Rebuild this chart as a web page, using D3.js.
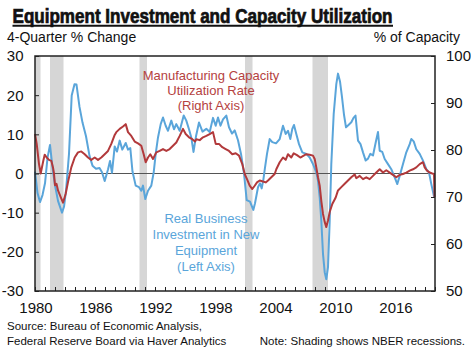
<!DOCTYPE html>
<html>
<head>
<meta charset="utf-8">
<script src="https://cdn.jsdelivr.net/npm/d3@7"></script>
<style>
  html, body { margin: 0; padding: 0; background: #fff; }
  svg { display: block; }
  text { font-family: "Liberation Sans", Arial, Helvetica, sans-serif; }
</style>
</head>
<body>
<svg id="chart" width="471" height="355"></svg>
<script>
// ---------- DATA ----------
const titleText = "Equipment Investment and Capacity Utilization";
const leftAxisTitle = "4-Quarter % Change";
const rightAxisTitle = "% of Capacity";
const leftTicks = [-30, -20, -10, 0, 10, 20, 30];
const rightTicks = [50, 60, 70, 80, 90, 100];
const yearLabels = [1980, 1986, 1992, 1998, 2004, 2010, 2016];

const recessionStarts = [1980.0, 1981.5, 1990.45, 2001.0, 2007.75];
const recessionEnds   = [1980.55, 1982.85, 1991.2, 2001.75, 2009.3];

// Real business investment in new equipment, 4-quarter % change (left axis)
const equipDates = [1980.0,1980.25,1980.5,1980.75,1981.0,1981.25,1981.5,1981.75,1982.0,1982.3,1982.7,1982.9,
  1983.1,1983.4,1983.67,1983.95,1984.15,1984.45,1984.75,1985.1,1985.45,1985.75,1986.1,1986.45,1986.7,1986.97,
  1987.3,1987.5,1987.7,1987.97,1988.2,1988.47,1988.73,1989.07,1989.3,1989.53,1989.75,1990.07,1990.4,1990.63,
  1990.8,1991.03,1991.3,1991.63,1991.87,1992.07,1992.3,1992.57,1992.8,1993.07,1993.3,1993.63,1993.9,1994.13,
  1994.47,1994.87,1995.13,1995.4,1995.63,1995.85,1996.1,1996.4,1996.75,1997.13,1997.47,1997.8,1998.07,1998.3,
  1998.55,1998.8,1999.13,1999.4,1999.7,1999.97,2000.3,2000.6,2000.9,2001.17,2001.5,2001.83,2002.0,2002.3,
  2002.5,2002.67,2002.83,2003.0,2003.2,2003.47,2003.73,2004.1,2004.47,2004.8,2005.07,2005.3,2005.53,2005.73,
  2005.9,2006.13,2006.4,2006.73,2007.13,2007.47,2007.8,2008.13,2008.3,2008.47,2008.63,2008.8,2008.97,2009.13,
  2009.3,2009.47,2009.63,2009.87,2010.13,2010.3,2010.5,2010.7,2010.9,2011.1,2011.35,2011.63,2011.85,2012.05,
  2012.3,2012.55,2012.8,2013.07,2013.3,2013.53,2013.8,2014.07,2014.3,2014.47,2014.73,2014.97,2015.3,2015.63,
  2015.97,2016.23,2016.47,2016.8,2017.13,2017.47,2017.63,2017.87,2018.13,2018.47,2018.8,2019.13,2019.4,2019.63,
  2019.92];
const equipValues = [0.5,-5,-7.3,-5.5,-2.5,4,7.3,1.5,-3,-7,-10,-8.5,
  -4.4,5,19.9,22.8,22.7,17,13,9.5,4.5,2,1.2,1.4,0.3,-1.9,
  1,3.2,0.2,6.9,5.6,8.4,6.1,7.8,6.1,6.5,0.5,-3.1,-3.5,-4.4,
  -3.1,-6.5,-4.4,-3.1,0.3,5.0,9.2,12.6,14.3,12.2,10.9,13.5,11.3,12.6,
  10.9,14.8,13.5,11.3,9.2,5.5,9.5,13,10.7,11.4,10.6,14.2,12.2,14.3,
  12.2,13.8,14.8,11.8,10.2,11,8.5,5,0,-6.8,-7.2,-9.3,-7.6,-3.5,
  -2.5,-3.8,-1.7,1.5,5,8.8,8.0,7.7,8.8,12.2,10.1,10.9,8.8,11.4,
  12.4,10.1,7.5,5.4,5.0,4.1,2.4,0.3,-1.8,-6.1,-12,-20.5,-25.2,-27,
  -23.9,-12,2.4,15.2,22.8,25.5,23.5,19.5,15,11.8,12.4,13.1,14.2,14.8,
  8.4,7.5,5.4,3.3,3.8,5.0,4.6,7.9,10.6,5.8,5.5,3.7,2.4,1.1,
  -1.0,-2.7,-0.6,2.4,5.4,7.5,8.8,8.2,6.2,5.0,3.3,1.1,0.3,-2.7,
  -6.1];

// Manufacturing capacity utilization rate, % of capacity (right axis)
const capuDates = [1980.0,1980.17,1980.4,1980.57,1980.83,1980.97,1981.17,1981.4,1981.63,1981.8,1981.9,1982.0,
  1982.15,1982.3,1982.53,1982.8,1983.07,1983.3,1983.63,1983.97,1984.3,1984.63,1984.97,1985.3,1985.63,1985.97,
  1986.3,1986.63,1986.97,1987.3,1987.63,1987.97,1988.13,1988.47,1988.8,1989.07,1989.3,1989.63,1989.97,1990.3,
  1990.63,1990.87,1991.07,1991.3,1991.53,1991.8,1992.13,1992.47,1992.8,1993.13,1993.47,1993.8,1994.13,1994.47,
  1994.8,1995.07,1995.4,1995.73,1996.0,1996.13,1996.47,1996.8,1997.13,1997.47,1997.8,1998.07,1998.4,1998.73,
  1999.07,1999.4,1999.73,2000.07,2000.4,2000.73,2000.97,2001.2,2001.47,2001.73,2001.97,2002.2,2002.47,2002.8,
  2003.07,2003.3,2003.63,2003.97,2004.13,2004.47,2004.8,2005.07,2005.3,2005.63,2005.87,2006.2,2006.53,2006.87,
  2007.13,2007.47,2007.8,2007.97,2008.13,2008.3,2008.47,2008.63,2008.8,2008.97,2009.13,2009.3,2009.47,2009.73,
  2010.07,2010.3,2010.63,2010.97,2011.3,2011.63,2011.97,2012.13,2012.47,2012.8,2013.13,2013.47,2013.8,2014.13,
  2014.47,2014.8,2015.13,2015.47,2015.8,2016.13,2016.47,2016.8,2017.13,2017.47,2017.8,2018.13,2018.47,2018.8,
  2018.97,2019.2,2019.47,2019.73,2019.9,2019.95];
const capuValues = [83.4,81.3,77.0,75.0,77.7,79.0,78.4,77.9,77.7,76.3,75.0,72.5,
  72.8,71.4,70.2,68.8,70.7,73.2,76.3,78.4,79.5,79.7,79.1,78.4,77.9,78.4,
  77.9,78.4,79.1,79.8,81.3,83.2,83.8,84.5,85.0,85.5,83.8,83.0,81.8,81.4,
  80.9,79.1,77.4,78.4,79.1,78.1,79.5,79.8,80.2,79.8,80.2,80.9,81.6,83.0,
  84.5,83.4,82.7,82.3,81.8,82.3,82.1,82.7,83.0,83.4,83.8,81.3,81.3,80.6,
  80.2,79.8,79.1,79.3,78.8,77.0,74.9,73.8,72.4,71.7,72.4,73.1,73.5,73.3,
  73.1,73.5,74.2,74.9,75.9,77.4,78.4,77.9,79.1,78.4,79.3,78.9,78.4,78.8,
  79.1,79.0,78.8,78.1,76.3,74.2,72.4,69.2,66.4,64.7,63.6,65.0,66.8,68.5,
  69.9,71.4,72.1,72.8,73.5,74.2,74.8,74.0,74.5,73.8,74.2,73.8,74.5,75.2,
  75.9,75.2,75.7,75.2,74.7,74.2,74.7,74.9,75.2,75.6,75.9,76.3,77.0,77.4,
  76.3,75.6,75.2,75.0,74.9,70.0];

const redLabel = ["Manufacturing Capacity", "Utilization Rate", "(Right Axis)"];
const blueLabel = ["Real Business", "Investment in New", "Equipment", "(Left Axis)"];
const sourceLines = ["Source: Bureau of Economic Analysis,", "Federal Reserve Board via Haver Analytics"];
const noteText = "Note: Shading shows NBER recessions.";

// ---------- LAYOUT ----------
const L = 35, R = 435, T = 56, B = 291;
const blueColor = "#5aa5da", redColor = "#b2393b";
const svg = d3.select("#chart");

const x = d3.scaleLinear().domain([1980, 2020]).range([L, R]);
const yL = d3.scaleLinear().domain([-30, 30]).range([B, T]);
const yR = d3.scaleLinear().domain([50, 100]).range([B, T]);

// recession shading
svg.append("g").selectAll("rect")
  .data(recessionStarts.map((s, i) => [s, recessionEnds[i]]))
  .join("rect")
  .attr("x", d => x(d[0])).attr("width", d => x(d[1]) - x(d[0]))
  .attr("y", T).attr("height", B - T)
  .attr("fill", "#d6d6d6");

// zero line
svg.append("line")
  .attr("x1", L).attr("x2", R).attr("y1", yL(0)).attr("y2", yL(0))
  .attr("stroke", "#555").attr("stroke-width", 1.2);

// lines
const equip = equipDates.map((d, i) => [d, equipValues[i]]);
const capu = capuDates.map((d, i) => [d, capuValues[i]]);

svg.append("path").datum(equip)
  .attr("fill", "none").attr("stroke", blueColor).attr("stroke-width", 2)
  .attr("stroke-linejoin", "round")
  .attr("d", d3.line().x(d => x(d[0])).y(d => yL(d[1])));

svg.append("path").datum(capu)
  .attr("fill", "none").attr("stroke", redColor).attr("stroke-width", 2)
  .attr("stroke-linejoin", "round")
  .attr("d", d3.line().x(d => x(d[0])).y(d => yR(d[1])));

// axes
const axisColor = "#222";
const gL = svg.append("g").attr("transform", `translate(${L},0)`)
  .call(d3.axisRight(yL).tickValues(leftTicks).tickSize(4).tickFormat(""));
const gR = svg.append("g").attr("transform", `translate(${R},0)`)
  .call(d3.axisLeft(yR).tickValues(rightTicks).tickSize(4).tickFormat(""));
const years = d3.range(1980, 2021);
const gB = svg.append("g").attr("transform", `translate(0,${B})`)
  .call(d3.axisTop(x).tickValues(years).tickSize(4).tickFormat(""));
[gL, gR, gB].forEach(g => {
  g.select(".domain").remove();
  g.selectAll("line").attr("stroke", axisColor).attr("stroke-width", 1);
});

// frame
svg.append("rect").attr("x", L).attr("y", T).attr("width", R - L).attr("height", B - T)
  .attr("fill", "none").attr("stroke", axisColor).attr("stroke-width", 1.5);

// tick labels
svg.append("g").selectAll("text").data(leftTicks).join("text")
  .attr("x", 23.5).attr("y", d => yL(d)).attr("dy", "0.36em")
  .attr("text-anchor", "end").attr("font-size", 15).attr("fill", "#111")
  .text(d => d);
svg.append("g").selectAll("text").data(rightTicks).join("text")
  .attr("x", 446).attr("y", d => yR(d)).attr("dy", "0.36em")
  .attr("text-anchor", "start").attr("font-size", 15).attr("fill", "#111")
  .text(d => d);
svg.append("g").selectAll("text").data(yearLabels).join("text")
  .attr("x", d => x(d) + 1).attr("y", 313)
  .attr("text-anchor", "middle").attr("font-size", 15).attr("fill", "#111")
  .text(d => d);

// title
svg.append("text").attr("x", 12.5).attr("y", 22.7)
  .attr("font-size", 19.5).attr("font-weight", "bold")
  .attr("textLength", 380).attr("lengthAdjust", "spacingAndGlyphs")
  .attr("fill", "#111").attr("stroke", "#111").attr("stroke-width", 0.7)
  .text(titleText);
svg.append("line").attr("x1", 12.5).attr("x2", 393).attr("y1", 25.8).attr("y2", 25.8)
  .attr("stroke", "#111").attr("stroke-width", 2);

// axis titles
svg.append("text").attr("x", 7).attr("y", 42.3).attr("font-size", 14).attr("fill", "#111")
  .text(leftAxisTitle);
svg.append("text").attr("x", 460).attr("y", 42.3).attr("font-size", 14).attr("fill", "#111")
  .attr("text-anchor", "end").text(rightAxisTitle);

// annotations
svg.append("g").selectAll("text").data(redLabel).join("text")
  .attr("x", 211).attr("y", (d, i) => 80 + i * 15)
  .attr("text-anchor", "middle").attr("font-size", 13).attr("fill", "#b5423f")
  .text(d => d);
svg.append("g").selectAll("text").data(blueLabel).join("text")
  .attr("x", 206).attr("y", (d, i) => 223 + i * 16)
  .attr("text-anchor", "middle").attr("font-size", 13).attr("fill", blueColor)
  .text(d => d);

// source & note
svg.append("g").selectAll("text").data(sourceLines).join("text")
  .attr("x", 7).attr("y", (d, i) => 330 + i * 14.5)
  .attr("font-size", 11.5).attr("fill", "#111").text(d => d);
svg.append("text").attr("x", 465).attr("y", 344.5).attr("text-anchor", "end")
  .attr("font-size", 11.5).attr("fill", "#111").text(noteText);
</script>
</body>
</html>
